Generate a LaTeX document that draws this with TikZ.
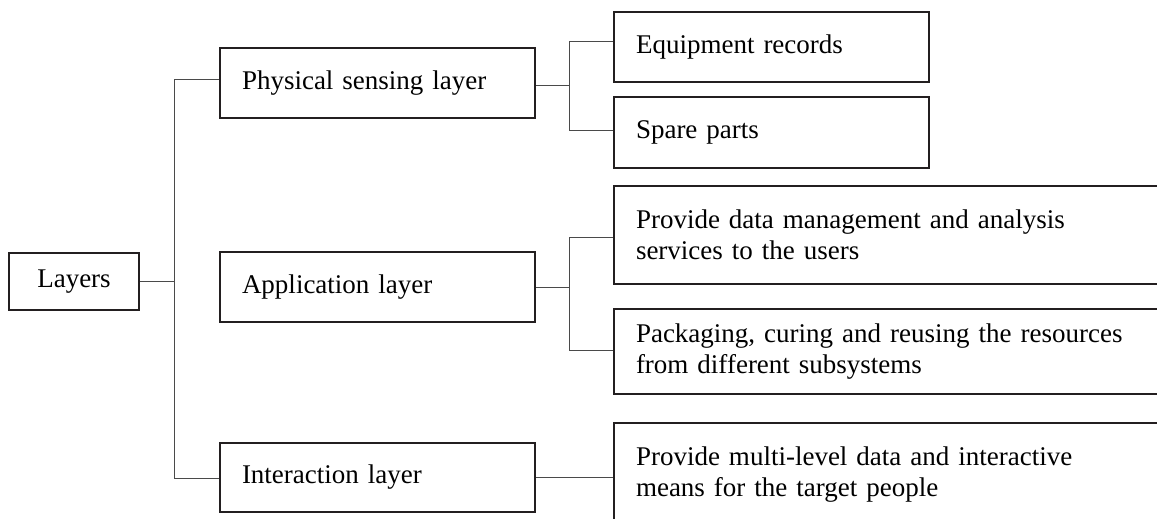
\documentclass[tikz,border=0pt]{standalone}
\usepackage{fontspec}
\setmainfont{Liberation Serif}
\definecolor{boxline}{HTML}{231F20}
\definecolor{conn}{HTML}{4A4A4A}
\begin{document}
\begin{tikzpicture}[x=1pt,y=-1pt,
  box/.style={draw=boxline, line width=2pt, fill=white, anchor=north west,
    inner xsep=22pt, inner ysep=0pt, align=left,
    font=\fontsize{27}{31}\selectfont},
  conn/.style={draw=conn, line width=1pt}]
\useasboundingbox (0,0) rectangle (1157,519);
\clip (0,0) rectangle (1157,519);
\fill[white] (0,0) rectangle (1157,519);

% level 0
\node[box, align=center, inner xsep=0pt, minimum width=130pt, minimum height=57pt] (layers) at (8,252) {Layers};

% level 1
\node[box, text width=271pt, minimum height=70pt] (phys) at (219,47) {Physical sensing layer};
\node[box, text width=271pt, minimum height=70pt] (app) at (219,251) {Application layer};
\node[box, text width=271pt, minimum height=69pt] (inter) at (219,442) {Interaction layer};

% level 2
\node[box, text width=271pt, minimum height=70pt] (equip) at (613,11) {Equipment records};
\node[box, text width=271pt, minimum height=71pt] (spare) at (613,96) {Spare parts};
\node[box, text width=513pt, minimum height=98pt] (prov) at (613,185) {Provide data management and analysis\\services to the users};
\node[box, text width=513pt, minimum height=85pt] (pack) at (613,308) {Packaging, curing and reusing the resources\\from different subsystems};
\node[box, text width=513pt, minimum height=103pt] (multi) at (613,422) {Provide multi-level data and interactive\\means for the target people};

% trunk
\coordinate (t1) at (174,80);
\coordinate (t2) at (174,478);
\draw[conn] (t1) -- (t2);
\draw[conn] (layers.east) -- (layers.east -| t1);
\draw[conn] (t1) -- (t1 -| phys.west);
\draw[conn] (t2) -- (t2 -| inter.west);

% physical branch
\coordinate (p1) at (569,42);
\coordinate (p2) at (569,130);
\draw[conn] (p1) -- (p2);
\draw[conn] (569,86) -- (569,86 -| phys.east);
\draw[conn] (p1) -- (p1 -| equip.west);
\draw[conn] (p2) -- (p2 -| spare.west);

% application branch
\coordinate (a1) at (569,237);
\coordinate (a2) at (569,350);
\draw[conn] (a1) -- (a2);
\draw[conn] (app.east) -- (app.east -| a1);
\draw[conn] (a1) -- (a1 -| prov.west);
\draw[conn] (a2) -- (a2 -| pack.west);

% interaction
\draw[conn] (inter.east) -- (inter.east -| multi.west);
\end{tikzpicture}
\end{document}
